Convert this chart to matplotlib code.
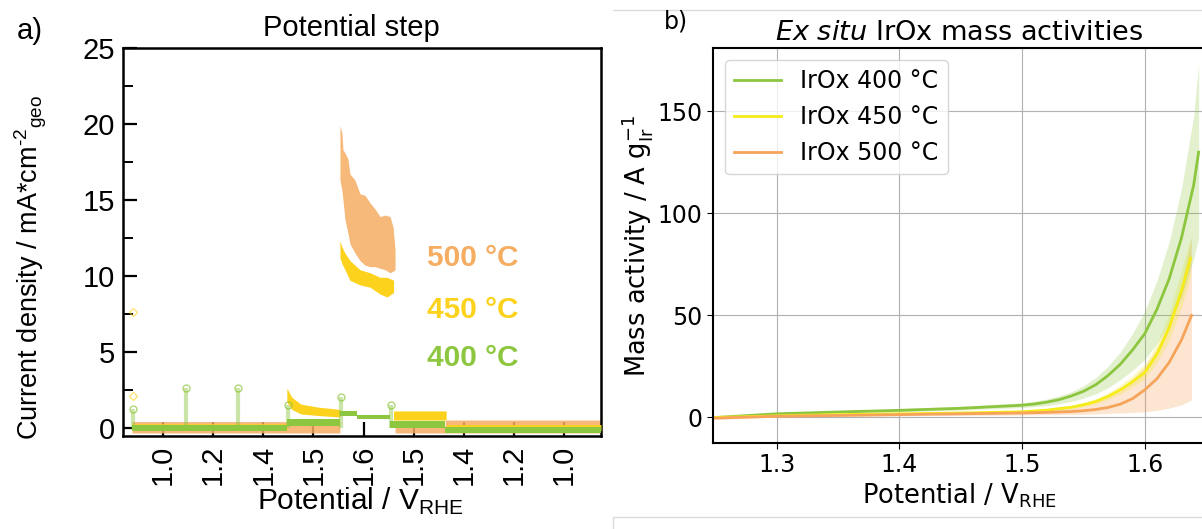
import matplotlib
matplotlib.use("Agg")
import matplotlib.pyplot as plt
from matplotlib.lines import Line2D
from matplotlib.ticker import AutoMinorLocator

W, H = 1202, 529

# ---------------- panel a: potential-step chronoamperometry ----------------
step_pos = [1, 2, 3, 4, 5, 6, 7, 8, 9]
step_labels = ["1.0", "1.2", "1.4", "1.5", "1.6", "1.5", "1.4", "1.2", "1.0"]

# band envelopes (x in step units, current density in mA cm-2)
t500 = [0.38, 4.53, 4.53, 4.57, 4.59, 4.63, 4.69, 4.73, 4.83, 4.93, 5.03,
        5.13, 5.23, 5.33, 5.43, 5.53, 5.59, 5.63, 5.63, 6.63, 6.63, 9.74]
lo500 = [-0.35, -0.35, 16.3, 15.6, 15.0, 13.7, 12.8, 12.1, 11.5, 11.0, 10.7,
         10.6, 10.6, 10.5, 10.4, 10.2, 10.3, 10.4, -0.35, -0.35, -0.35, -0.35]
hi500 = [0.4, 0.4, 19.9, 19.4, 18.3, 18.1, 17.7, 16.7, 16.3, 15.4, 15.3,
         14.8, 14.4, 13.9, 14.0, 13.9, 13.2, 11.7, 0.1, 0.1, 0.5, 0.5]

t450 = [0.38, 3.47, 3.47, 3.57, 3.75, 4.10, 4.53, 4.53, 4.57, 4.63, 4.73,
        4.93, 5.13, 5.33, 5.47, 5.60, 5.60, 6.65, 6.65, 9.74]
lo450 = [-0.15, -0.15, 1.7, 1.2, 0.9, 0.8, 0.7, 11.2, 10.8, 10.4, 9.7,
         9.4, 9.25, 8.8, 8.6, 8.9, 0.5, 0.5, -0.2, -0.2]
hi450 = [0.25, 0.25, 2.6, 2.0, 1.55, 1.35, 1.2, 12.3, 11.9, 11.5, 11.0,
         10.4, 10.2, 9.9, 9.9, 9.7, 1.1, 1.1, 0.2, 0.2]

t400 = [0.38, 3.47, 3.47, 4.53, 4.53, 4.87, 4.87, 5.53, 5.53, 6.63, 6.63, 9.74]
lo400 = [-0.25, -0.25, 0.1, 0.1, 0.75, 0.75, 0.55, 0.55, 0.0, 0.0, -0.35, -0.35]
hi400 = [0.2, 0.2, 0.6, 0.6, 1.1, 1.1, 0.85, 0.85, 0.45, 0.45, 0.05, 0.05]

# transient spikes at each potential switch
spike_x400 = [0.40, 1.46, 2.50, 3.49, 4.55, 5.55]
spike_y400 = [1.2, 2.6, 2.6, 1.5, 2.0, 1.5]
stray_x450 = [0.40, 0.40]
stray_y450 = [2.1, 7.6]

c500, c450, c400 = "#F5AD62", "#FDD21C", "#8DC63F"

# ---------------- panel b: ex situ mass activities ----------------
e400 = [1.25, 1.30, 1.35, 1.40, 1.45, 1.50, 1.51, 1.52, 1.53, 1.54, 1.55, 1.56,
        1.57, 1.58, 1.59, 1.60, 1.61, 1.62, 1.63, 1.64, 1.644]
m400 = [0.0, 1.8, 2.7, 3.5, 4.5, 6.0, 6.6, 7.5, 8.7, 10.5, 12.8, 16.0,
        20.5, 26.0, 33.0, 41.0, 53.0, 68.0, 88.0, 114.0, 130.0]
m400_lo = [-0.5, 1.3, 2.1, 2.8, 3.6, 4.9, 5.3, 5.8, 6.7, 7.8, 9.5, 11.5,
           14.5, 18.5, 23.0, 28.5, 36.0, 46.0, 59.0, 78.0, 88.0]
m400_hi = [0.5, 2.3, 3.3, 4.3, 5.5, 7.2, 8.0, 9.0, 10.6, 12.5, 15.5, 19.5,
           25.0, 32.0, 41.0, 52.0, 67.0, 86.0, 112.0, 148.0, 173.0]

e450 = [1.25, 1.30, 1.35, 1.40, 1.45, 1.50, 1.52, 1.54, 1.55, 1.56, 1.57,
        1.58, 1.59, 1.60, 1.61, 1.62, 1.63, 1.6374]
m450 = [0.0, 0.8, 1.4, 1.8, 2.2, 2.8, 3.6, 5.0, 6.2, 7.8, 10.3,
        13.5, 17.5, 22.0, 31.0, 44.0, 62.0, 78.0]
m450_lo = [-0.3, 0.6, 1.1, 1.5, 1.8, 2.3, 3.0, 4.2, 5.2, 6.6, 8.8,
           11.5, 15.0, 19.0, 27.0, 38.0, 54.0, 69.0]
m450_hi = [0.3, 1.0, 1.7, 2.2, 2.7, 3.4, 4.3, 6.0, 7.4, 9.2, 12.0,
           16.0, 20.5, 26.0, 36.0, 51.0, 72.0, 88.0]

e500 = [1.25, 1.30, 1.35, 1.40, 1.45, 1.50, 1.52, 1.54, 1.55, 1.56, 1.57,
        1.58, 1.59, 1.60, 1.61, 1.62, 1.63, 1.6382]
m500 = [-0.3, 0.6, 1.0, 1.4, 1.8, 2.2, 2.5, 2.9, 3.3, 3.9, 4.9,
        6.5, 9.2, 13.5, 19.0, 27.0, 38.0, 50.0]
m500_lo = [-1.0, 0.2, 0.5, 0.8, 1.0, 1.2, 1.4, 1.5, 1.6, 1.8, 2.0,
           2.2, 2.5, 2.8, 3.5, 4.6, 6.2, 8.7]
m500_hi = [0.3, 1.0, 1.5, 2.0, 2.7, 3.5, 4.3, 5.5, 6.6, 8.0, 10.2,
           13.5, 19.0, 25.0, 34.0, 47.0, 65.0, 88.5]

g400, g450, g500 = "#8CC63F", "#F5EC1A", "#F6A45A"

fig = plt.figure(figsize=(W / 100, H / 100), dpi=100)

# ---- panel a ----
ax1 = fig.add_axes([123 / W, 1 - 436 / H, 478 / W, 388 / H])
arial = "Liberation Sans"

ax1.fill_between(t500, lo500, hi500, color=c500, alpha=0.85, lw=0, zorder=2)
ax1.fill_between(t450, lo450, hi450, color=c450, lw=0, zorder=3)
ax1.fill_between(t400, lo400, hi400, color=c400, lw=0, zorder=4)
ax1.vlines(spike_x400, 0, spike_y400, color=c400, lw=3, alpha=0.45, zorder=4)
ax1.plot(spike_x400, spike_y400, "o", mfc="none", mec=c400, ms=5, alpha=0.7, zorder=4)
ax1.plot(stray_x450, stray_y450, "D", mfc="none", mec=c450, ms=4, alpha=0.6, zorder=3)

ax1.set_xlim(0.20, 9.74)
ax1.set_ylim(-0.55, 25)
ax1.set_xticks(step_pos)
ax1.set_xticklabels(step_labels, rotation=90, family=arial, fontsize=21)
ax1.set_yticks([0, 5, 10, 15, 20, 25])
ax1.yaxis.set_minor_locator(AutoMinorLocator(2))
for lab in ax1.get_yticklabels():
    lab.set_family(arial)
    lab.set_fontsize(21)
ax1.tick_params(axis="both", which="major", direction="in", length=10, width=1.6, pad=6)
ax1.tick_params(axis="y", which="minor", direction="in", length=7, width=1.4)
ax1.tick_params(axis="x", which="minor", bottom=False)
for sp in ax1.spines.values():
    sp.set_linewidth(1.8)

for txt, col, ya in [("500 °C", c500, 0.459), ("450 °C", c450, 0.325), ("400 °C", c400, 0.201)]:
    ax1.text(0.732, ya, txt, color=col, transform=ax1.transAxes, ha="center", va="center",
             family=arial, fontsize=21.5, fontweight="bold")

fig.text(351 / W, 1 - 28 / H, "Potential step", ha="center", va="center", family=arial, fontsize=21)
fig.text(17 / W, 1 - 31 / H, "a)", ha="left", va="center", family=arial, fontsize=21)
fig.text(360 / W, 1 - 510 / H, r"Potential / V$_{\mathregular{RHE}}$", ha="center", va="baseline",
         family=arial, fontsize=21.5)
fig.text(31 / W, 1 - 268 / H,
         "Current density / mA*cm$^{\\mathregular{\u2010}\\mathregular{2}}$$_{\\mathregular{geo}}$",
         rotation=90, ha="center", va="center", family=arial, fontsize=19.5)

# ---- panel b ----
ax2 = fig.add_axes([713 / W, 1 - 443 / H, 493 / W, 395 / H])
ax2.fill_between(e500, m500_lo, m500_hi, color=g500, alpha=0.28, lw=0)
ax2.fill_between(e450, m450_lo, m450_hi, color=g450, alpha=0.25, lw=0)
ax2.fill_between(e400, m400_lo, m400_hi, color=g400, alpha=0.25, lw=0)
ax2.plot(e400, m400, color=g400, lw=2, label="IrOx 400 °C")
ax2.plot(e450, m450, color=g450, lw=2, label="IrOx 450 °C")
ax2.plot(e500, m500, color=g500, lw=2, label="IrOx 500 °C")

ax2.set_xlim(1.248, 1.650)
ax2.set_ylim(-12.5, 181)
ax2.set_xticks([1.3, 1.4, 1.5, 1.6])
ax2.set_yticks([0, 50, 100, 150])
ax2.grid(True, color="#b0b0b0", lw=0.8)
ax2.set_axisbelow(True)
ax2.tick_params(labelsize=17, length=4)
for sp in ax2.spines.values():
    sp.set_linewidth(1.5)
ax2.set_title(r"$\it{Ex\ situ}$ IrOx mass activities", fontsize=19.5, pad=6)
ax2.set_xlabel(r"Potential / V$_{\mathrm{RHE}}$", fontsize=18.5, labelpad=3)
ax2.set_ylabel(r"Mass activity / A $\mathrm{g}_{\mathrm{Ir}}^{-1}$", fontsize=18.5, labelpad=2)
ax2.legend(loc="upper left", fontsize=17)
fig.text(676 / W, 1 - 21 / H, "b)", ha="center", va="center", fontsize=17)

# light frame around panel b
frame = "#dcdcdc"
fig.add_artist(Line2D([613 / W, 1], [1 - 10 / H, 1 - 10 / H], color=frame, lw=1))
fig.add_artist(Line2D([613 / W, 1], [1 - 517 / H, 1 - 517 / H], color=frame, lw=1))
fig.add_artist(Line2D([613 / W, 613 / W], [0, 1 - 517 / H], color=frame, lw=1))

fig.savefig("out.png", dpi=100)
